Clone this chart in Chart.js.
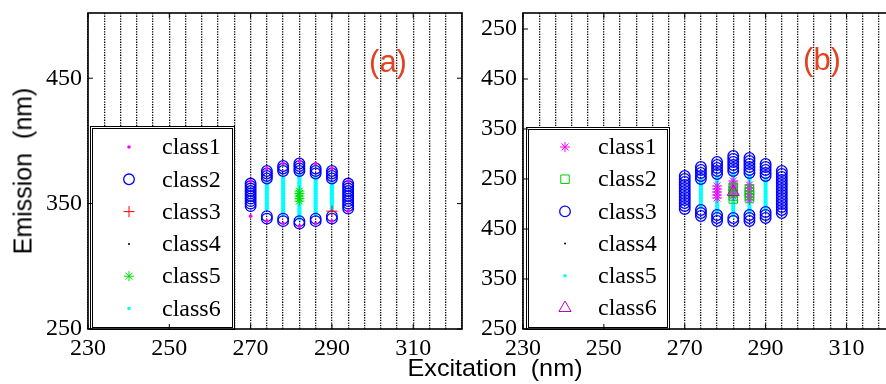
<!DOCTYPE html>
<html>
<head>
<meta charset="utf-8">
<script src="https://cdn.jsdelivr.net/npm/chart.js@4/dist/chart.umd.min.js"></script>
<style>
html, body { margin: 0; padding: 0; background: #fff; overflow: hidden; width: 886px; height: 384px; }
.panel { position: absolute; top: 0; }
#pa { left: 0; }
#pb { left: 440px; }
.lbl { position: absolute; font-family: "Liberation Sans", Arial, sans-serif; color: #000; white-space: pre; line-height: 1; }
.tag { color: #e2431e; font-size: 31px; }
</style>
</head>
<body>
<canvas id="pa" class="panel" width="470" height="384"></canvas>
<canvas id="pb" class="panel" width="470" height="384"></canvas>
<div class="lbl" style="left:22.5px;top:170.5px;font-size:25px;transform:translate(-50%,-50%) rotate(-90deg);">Emission  (nm)</div>
<div class="lbl" style="left:495px;top:356px;font-size:24px;transform:translateX(-50%) scaleX(1.05);">Excitation  (nm)</div>
<div class="lbl tag" style="left:388px;top:46px;transform:translateX(-50%);">(a)</div>
<div class="lbl tag" style="left:822px;top:44px;transform:translateX(-50%);">(b)</div>
<script>
// ==================== DATOS ====================

// eje x (excitación, nm) — igual en los dos paneles
const xMin = 230, xMax = 322;
const xTicks = [230, 250, 270, 290, 310];
// columnas donde está class4 (puntos negros verticales)
const class4Ex = [230, 234, 238, 242, 246, 250, 254, 258, 262, 266, 270, 274, 278,
                  282, 286, 290, 294, 298, 302, 306, 310, 314, 318, 322];

// panel (a): eje y en nm
const yTicksA = [250, 350, 450];

// cada fila: [excitación, [emisiones...]]
const class1A = [
    [270, [340, 368]],
    [274, [336, 378]],
    [278, [334, 382]],
    [282, [332, 384]],
    [286, [334, 382]],
    [290, [336, 378]],
    [294, [344, 368]]
];
const class2A = [
    [270, [348, 350, 352, 354, 356, 358, 360, 362, 364, 366]],
    [274, [338, 340, 370, 372, 374, 376]],
    [278, [336, 338, 376, 378, 380]],
    [282, [334, 336, 376, 378, 380, 382]],
    [286, [336, 338, 374, 376, 378]],
    [290, [338, 340, 370, 372, 374, 376]],
    [294, [346, 348, 350, 352, 354, 356, 358, 360, 362, 364, 366]]
];
const class3A = [
    [290, [344]]
];
const class5A = [
    [282, [352, 354, 356, 358, 360]]
];
const class6A = [
    [274, [346, 348, 350, 352, 354, 356, 358, 360, 362, 364, 366]],
    [278, [342, 344, 346, 348, 350, 352, 354, 356, 358, 360, 362, 364, 366, 368, 370]],
    [282, [338, 340, 342, 344, 346, 348, 350, 352, 354, 356, 358, 360, 362, 364, 366, 368, 370, 372]],
    [286, [342, 344, 346, 348, 350, 352, 354, 356, 358, 360, 362, 364, 366, 368, 370]],
    [290, [346, 348, 350, 352, 354, 356, 358, 360, 362, 364, 366]]
];

// panel (b): las etiquetas del eje y se repiten (así está en la figura)
const yMinB = 250, yMaxB = 882;
const yTickPosB = [250, 350, 450, 550, 650, 750, 850];
const yTickLabelsB = ['250', '350', '450', '250', '350', '450', '250'];

const class1B = [
    [278, [512, 518, 524, 530, 536]],
    [282, [516, 522, 528, 534, 540, 546]],
    [286, [508, 514, 520, 526, 532, 538]]
];
const class2B = [
    [282, [510, 516, 522, 528, 534]],
    [286, [512, 518, 524, 530]]
];
const class3B = [
    [270, [490, 496, 502, 508, 514, 520, 526, 532, 538, 544, 550, 556]],
    [274, [476, 482, 488, 550, 556, 562, 568, 574]],
    [278, [466, 472, 478, 560, 566, 572, 578, 584]],
    [282, [466, 472, 566, 572, 578, 584, 590, 596]],
    [286, [466, 472, 478, 562, 568, 574, 580, 586, 592]],
    [290, [472, 478, 484, 556, 562, 568, 574, 580]],
    [294, [482, 488, 494, 500, 506, 512, 518, 524, 530, 536, 542, 548, 554, 560, 566]]
];
const class5B = [
    [274, [494, 500, 506, 512, 518, 524, 530, 536, 542, 548]],
    [278, [484, 490, 496, 502, 508, 514, 520, 526, 532, 538, 544, 550, 554]],
    [282, [478, 484, 490, 496, 502, 508, 514, 520, 526, 532, 538, 544, 550, 556, 560]],
    [286, [484, 490, 496, 502, 508, 514, 520, 526, 532, 538, 544, 550, 556]],
    [290, [490, 496, 502, 508, 514, 520, 526, 532, 538, 544, 550]]
];
const class6B = [
    [282, [524]]
];

// ==================== HELPERS ====================

function puntos(filas) {
    return filas.flatMap(([x, ems]) => ems.map(y => ({ x, y })));
}

// estilo de cada marcador
function serie(label, filas, estilo, order) {
    return {
        label,
        data: puntos(filas),
        pointStyle: estilo.style,
        pointRadius: estilo.r,
        pointHoverRadius: estilo.r,
        legendRadius: estilo.lr ?? estilo.r,
        pointBorderWidth: estilo.bw ?? 1,
        borderColor: estilo.color,
        backgroundColor: estilo.fill ? estilo.color : 'rgba(0,0,0,0)',
        showLine: false,
        order
    };
}

const dotMag  = { style: 'circle', r: 1.8, bw: 0, fill: true, color: '#ff00ff' };
const dotCyan = { style: 'circle', r: 2.2, lr: 1.8, bw: 0, fill: true, color: '#00ffff' };
const dotBlk  = { style: 'circle', r: 1, bw: 0, fill: true, color: '#000' };
const ring    = { style: 'circle', r: 5.3, bw: 1.3, color: '#0000ff' };
const plus    = { style: 'cross', r: 5.5, color: '#ff0000' };
const starGrn = { style: 'star', r: 5, color: '#00dd00' };
const starMag = { style: 'star', r: 5, color: '#ff00ff' };
const square  = { style: 'rect', r: 6, color: '#00cc00' };
const tri     = { style: 'triangle', r: 7, color: '#bf00bf' };

// ── Leyenda con caja dentro del área ───────────────────────

const boxLegend = {
    id: 'boxLegend',
    afterDatasetsDraw(chart, args, o) {
        const ctx = chart.ctx;
        ctx.save();
        ctx.fillStyle = '#fff';
        ctx.fillRect(o.x, o.y, o.w, o.h);
        ctx.strokeStyle = '#000';
        ctx.lineWidth = 1;
        ctx.strokeRect(o.x + 0.5, o.y + 0.5, o.w - 1, o.h - 1);
        ctx.strokeRect(o.x + 2.5, o.y + 2.5, o.w - 5, o.h - 5);
        chart.data.datasets.forEach((ds, i) => {
            const cy = o.rowY + i * o.rowGap;
            ctx.fillStyle = ds.backgroundColor;
            ctx.strokeStyle = ds.borderColor;
            ctx.lineWidth = ds.pointBorderWidth;
            Chart.helpers.drawPoint(ctx, {
                pointStyle: ds.pointStyle, radius: ds.legendRadius,
                borderWidth: ds.pointBorderWidth, rotation: 0
            }, o.symX, cy);
            ctx.fillStyle = '#000';
            ctx.font = '24px "Liberation Serif", "Times New Roman", serif';
            ctx.textBaseline = 'middle';
            ctx.textAlign = 'left';
            ctx.fillText(ds.label, o.textX, cy + 1);
        });
        ctx.restore();
    }
};

// ── Marco y marcas de tick hacia dentro ────────────────────

const frame = {
    id: 'frame',
    afterDraw(chart) {
        const { ctx, chartArea: a, scales } = chart;
        ctx.save();
        ctx.strokeStyle = '#000';
        ctx.lineWidth = 1;
        ctx.beginPath();
        scales.y.ticks.forEach(t => {
            const p = scales.y.getPixelForValue(t.value);
            ctx.moveTo(a.left, p); ctx.lineTo(a.left + 5, p);
            ctx.moveTo(a.right, p); ctx.lineTo(a.right - 5, p);
        });
        scales.x.ticks.forEach(t => {
            const p = scales.x.getPixelForValue(t.value);
            ctx.moveTo(p, a.bottom); ctx.lineTo(p, a.bottom - 5);
            ctx.moveTo(p, a.top); ctx.lineTo(p, a.top + 5);
        });
        ctx.stroke();
        ctx.lineWidth = 1.6;
        ctx.strokeRect(a.left, a.top, a.right - a.left, a.bottom - a.top);
        ctx.restore();
    }
};

const tickFont = { family: '"Liberation Serif", "Times New Roman", serif', size: 24 };

function sinPadding(s) {
    s.paddingTop = 0; s.paddingBottom = 0; s.paddingLeft = 0; s.paddingRight = 0;
}

function escalas(yMin, yMax, yPos, yLabels, yWidth) {
    return {
        x: {
            type: 'linear', min: xMin, max: xMax, position: 'bottom',
            afterBuildTicks: s => { s.ticks = xTicks.map(v => ({ value: v })); },
            afterFit: s => { s.height = 55; sinPadding(s); },
            grid: { display: false, drawTicks: false }, border: { display: false },
            ticks: { autoSkip: false, maxRotation: 0, padding: 5, color: '#000', font: tickFont,
                     callback: v => String(v) }
        },
        dots: {
            type: 'linear', min: xMin, max: xMax, position: 'bottom',
            afterBuildTicks: s => { s.ticks = class4Ex.map(v => ({ value: v })); },
            afterFit: s => { s.height = 0; sinPadding(s); },
            ticks: { display: false },
            grid: { color: '#000', lineWidth: 1.3, drawTicks: false },
            border: { display: false, dash: [1.3, 1.3] }
        },
        y: {
            type: 'linear', min: yMin, max: yMax,
            afterBuildTicks: s => { s.ticks = yPos.map(v => ({ value: v })); },
            afterFit: s => { s.width = yWidth; sinPadding(s); },
            grid: { display: false, drawTicks: false }, border: { display: false },
            ticks: { autoSkip: false, padding: 6, color: '#000', font: tickFont,
                     callback: (v, i) => yLabels[i] }
        }
    };
}

function panel(id, datasets, scales, pad, legend) {
    return new Chart(document.getElementById(id), {
        type: 'scatter',
        data: { datasets },
        options: {
            responsive: false,
            animation: false,
            events: [],
            layout: { padding: pad },
            scales,
            plugins: { legend: { display: false }, tooltip: { enabled: false }, boxLegend: legend }
        },
        plugins: [boxLegend, frame]
    });
}

// ==================== PANEL (a) ====================

panel('pa', [
    serie('class1', class1A, dotMag, 0),
    serie('class2', class2A, ring, 3),
    serie('class3', class3A, plus, 1),
    serie('class4', [], dotBlk, 4),
    serie('class5', class5A, starGrn, 2),
    serie('class6', class6A, dotCyan, 5)
], escalas(250, 502, yTicksA, yTicksA.map(String), 88),
   { left: 0, right: 8, top: 13, bottom: 0 },
   { x: 90, y: 126, w: 145, h: 204, symX: 129, textX: 162, rowY: 147, rowGap: 32.3 });

// ==================== PANEL (b) ====================

panel('pb', [
    serie('class1', class1B, starMag, 2),
    serie('class2', class2B, square, 1),
    serie('class3', class3B, ring, 3),
    serie('class4', [], dotBlk, 4),
    serie('class5', class5B, dotCyan, 5),
    serie('class6', class6B, tri, 0)
], escalas(yMinB, yMaxB, yTickPosB, yTickLabelsB, 83),
   { left: 0, right: 15, top: 13, bottom: 0 },
   { x: 86, y: 127, w: 144, h: 203, symX: 125, textX: 158, rowY: 147, rowGap: 32.2 });
</script>
</body>
</html>
